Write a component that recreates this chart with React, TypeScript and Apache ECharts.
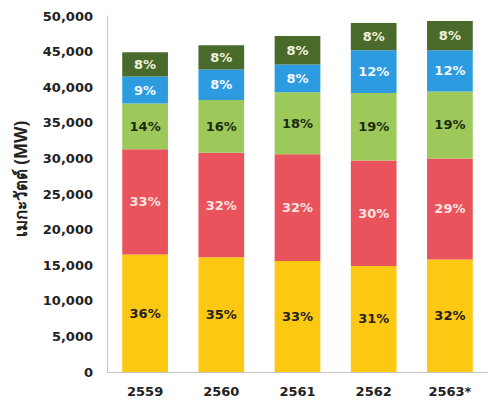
import React, { useEffect, useRef } from "react";
import * as echarts from "echarts";

const categories = ["2559", "2560", "2561", "2562", "2563*"];
const yellowVals = [16500, 16100, 15600, 14900, 15800];
const redVals = [14800, 14700, 15000, 14800, 14200];
const lightGreenVals = [6400, 7400, 8700, 9500, 9400];
const blueVals = [3800, 4300, 3900, 6000, 5800];
const darkGreenVals = [3400, 3400, 4000, 3800, 4100];

const yellowPct = ["36%", "35%", "33%", "31%", "32%"];
const redPct = ["33%", "32%", "32%", "30%", "29%"];
const lightGreenPct = ["14%", "16%", "18%", "19%", "19%"];
const bluePct = ["9%", "8%", "8%", "12%", "12%"];
const darkGreenPct = ["8%", "8%", "8%", "8%", "8%"];

const FONT = "DejaVu Sans";

function mkSeries(name: string, data: number[], pct: string[], color: string, labelColor: string) {
  return {
    name,
    type: "bar",
    stack: "total",
    barWidth: "60%",
    data,
    itemStyle: { color },
    label: {
      show: true,
      position: "inside",
      formatter: (p: any) => pct[p.dataIndex],
      color: labelColor,
      fontFamily: FONT,
      fontWeight: "bold",
      fontSize: 13,
    },
  };
}

export default function App() {
  const ref = useRef<HTMLDivElement>(null);
  useEffect(() => {
    if (!ref.current) return;
    const chart = echarts.init(ref.current, null, { renderer: "svg" });
    chart.setOption({
      animation: false,
      backgroundColor: "#ffffff",
      grid: { left: 107, right: -14, top: 16, bottom: 33 },
      xAxis: {
        type: "category",
        data: categories,
        axisLine: { show: true, lineStyle: { color: "#c8c8c8", width: 1 } },
        axisTick: { show: false },
        axisLabel: {
          color: "#222",
          fontFamily: FONT,
          fontWeight: "bold",
          fontSize: 13,
          margin: 13,
        },
      },
      yAxis: {
        type: "value",
        min: 0,
        max: 50000,
        interval: 5000,
        axisLine: { show: true, lineStyle: { color: "#c8c8c8", width: 1 } },
        axisTick: { show: false },
        splitLine: { show: false },
        axisLabel: {
          color: "#222",
          fontFamily: FONT,
          fontWeight: "bold",
          fontSize: 13,
          margin: 14,
          formatter: (v: number) => v.toLocaleString("en-US"),
        },
      },
      graphic: [
        {
          type: "text",
          x: 20,
          y: 179,
          rotation: Math.PI / 2,
          style: {
            text: "เมกะวัตต์ (MW)",
            fill: "#222",
            font: "bold 17px 'Noto Sans', 'DejaVu Sans'",
            align: "center",
            verticalAlign: "middle",
          },
        },
      ],
      series: [
        mkSeries("yellow", yellowVals, yellowPct, "#fcc812", "#222"),
        mkSeries("red", redVals, redPct, "#e9535c", "#fbe4e4"),
        mkSeries("lightgreen", lightGreenVals, lightGreenPct, "#9cc95a", "#1e2a10"),
        mkSeries("blue", blueVals, bluePct, "#2d9be0", "#f2f8ff"),
        mkSeries("darkgreen", darkGreenVals, darkGreenPct, "#4a6a2c", "#eef2dc"),
      ],
    });
    return () => chart.dispose();
  }, []);
  return <div ref={ref} style={{ width: 488, height: 405, position: "absolute", left: 0, top: 0 }} />;
}
